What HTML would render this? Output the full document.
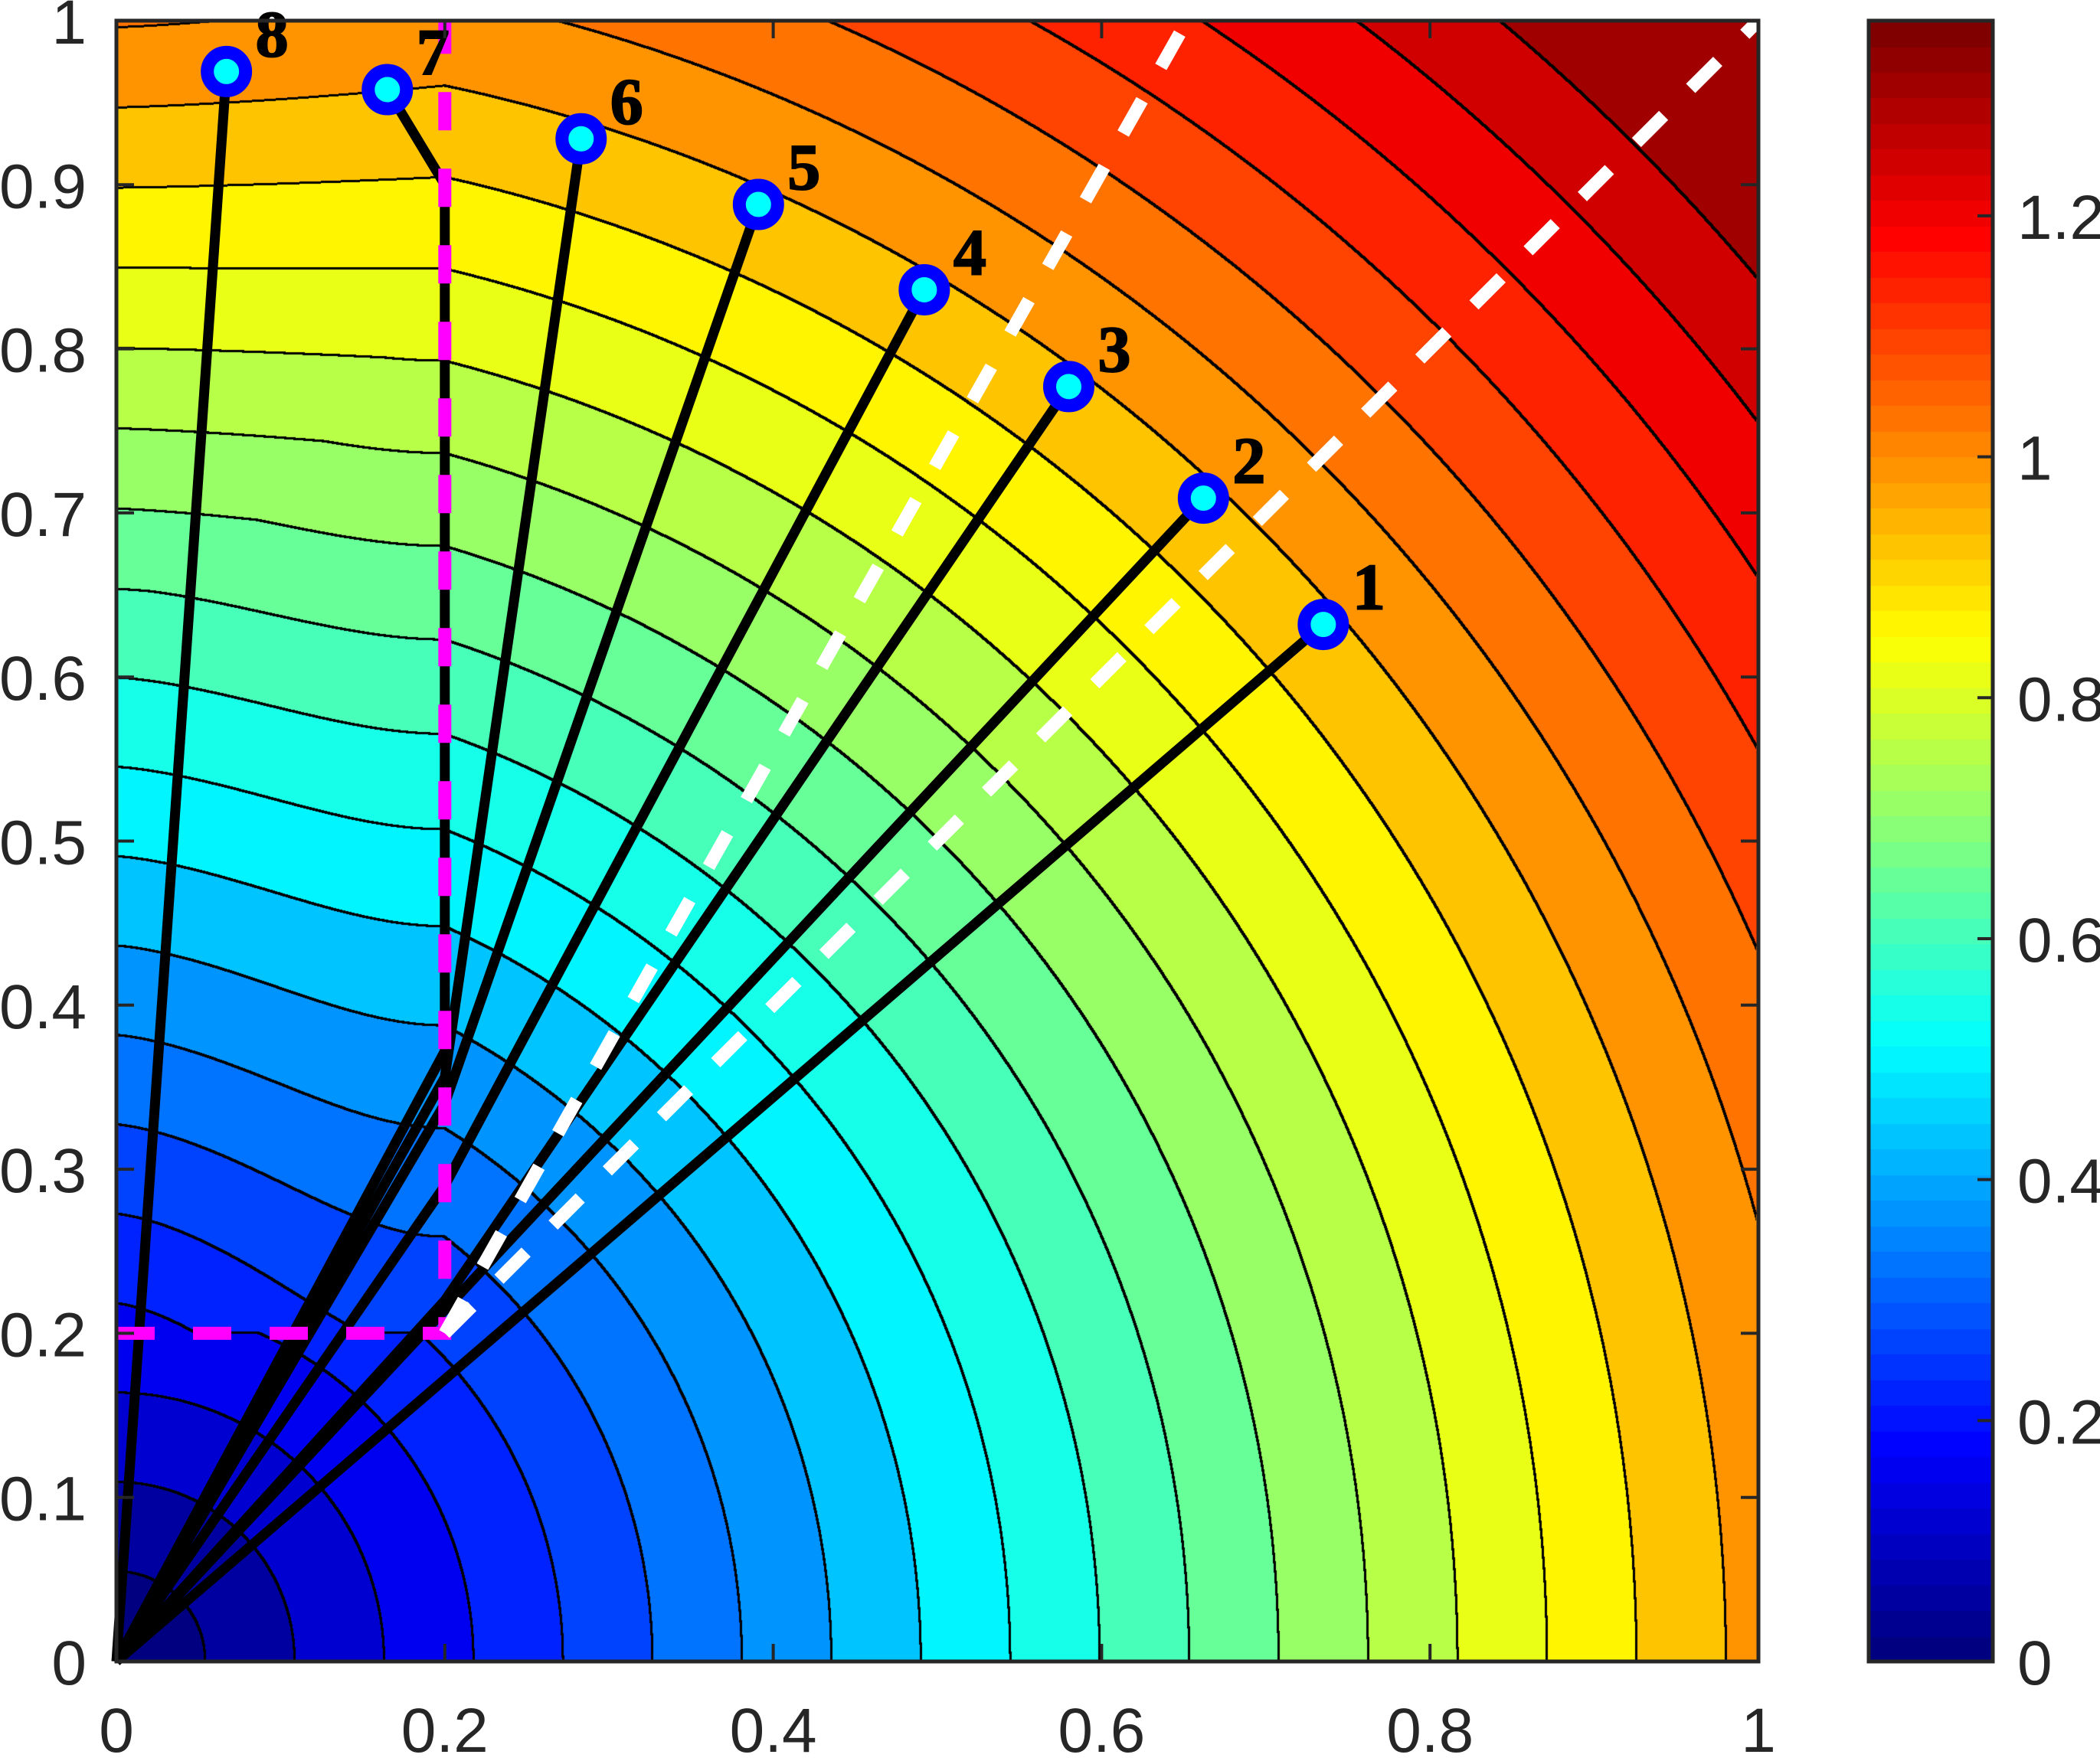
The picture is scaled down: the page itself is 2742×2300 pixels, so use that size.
<!DOCTYPE html>
<html><head><meta charset="utf-8">
<style>
html,body{margin:0;padding:0;background:#fff;}
#wrap{position:relative;width:2742px;height:2300px;overflow:hidden;}
canvas,svg{position:absolute;left:0;top:0;}
text{font-family:"Liberation Sans",sans-serif;}
</style></head>
<body>
<div id="wrap">
<canvas id="field" width="2742" height="2300"></canvas>
<svg id="ov" width="2742" height="2300"></svg>
</div>
<script>
// ---- data ----
const pointX = [0.735, 0.662, 0.580, 0.492, 0.391, 0.283, 0.165, 0.067];
const pointY = [0.632, 0.709, 0.777, 0.836, 0.888, 0.928, 0.958, 0.969];
const pointLabels = ["1","2","3","4","5","6","7","8"];
// intermediate bends of each path (x and y lists), path goes origin -> bends -> point
const bendX = [[], [], [0.2], [0.2], [0.2], [0.2], [0.2, 0.2], []];
const bendY = [[], [], [0.22], [0.29], [0.34], [0.356], [0.372, 0.9], []];
const magentaX = [0, 0.2, 0.2];
const magentaY = [0.2, 0.2, 1];
const whiteAX = [0.2, 1];
const whiteAY = [0.2, 1];
const whiteBX = [0.2, 0.652];
const whiteBY = [0.2, 1];
const xTicks = [0,0.2,0.4,0.6,0.8,1];
const xTickLabels = ["0","0.2","0.4","0.6","0.8","1"];
const yTicks = [0,0.1,0.2,0.3,0.4,0.5,0.6,0.7,0.8,0.9,1];
const yTickLabels = ["0","0.1","0.2","0.3","0.4","0.5","0.6","0.7","0.8","0.9","1"];
const cbTicks = [0,0.2,0.4,0.6,0.8,1,1.2];
const cbTickLabels = ["0","0.2","0.4","0.6","0.8","1","1.2"];
const cMax = 1.362;
const nLevels = 25;

// ---- layout ----
const PL=152, PR=2296, PT=27, PB=2170;
const CL=2440, CR=2602;
const sx = v => PL + v*(PR-PL);
const sy = v => PB - v*(PB-PT);
const cy = v => PB - v/cMax*(PB-PT);

function clamp(v){return Math.max(0,Math.min(1,v));}
function jet(t){
  return [clamp(Math.min(4*t-1.5,-4*t+4.5)), clamp(Math.min(4*t-0.5,-4*t+3.5)), clamp(Math.min(4*t+0.5,-4*t+2.5))].map(v=>Math.round(v*255));
}
function zf(x,y){
  const rad=Math.sqrt(x*x+y*y);
  if(x>=0.2||y<=0.2) return rad;
  const r2=Math.sqrt(0.04+y*y);
  const h=Math.max(rad, 0.981+1.114*(y-0.947));
  const w=Math.pow(x/0.2,1.3);
  return w*r2+(1-w)*h;
}
// ---- field ----
const cv=document.getElementById('field');
const ctx=cv.getContext('2d');
const W=PR-PL, H=PB-PT;
const step=cMax/nLevels;
const idx=new Int16Array(W*H);
for(let j=0;j<H;j++){for(let i=0;i<W;i++){
  const x=i/W, y=1-j/H;
  idx[j*W+i]=Math.min(nLevels-1,Math.floor(zf(x,y)/step));
}}
const img=ctx.createImageData(W,H);
const pal=[];for(let k=0;k<nLevels;k++){const t=Math.floor(k*step/cMax*64)/63;pal.push(jet(Math.min(1,t)));}
for(let j=0;j<H;j++){for(let i=0;i<W;i++){
  const p=j*W+i, k=idx[p];
  let edge=false;
  if(i+3<W&&idx[p+3]!==k) edge=true;
  if(j+3<H&&idx[p+3*W]!==k) edge=true;
  const c=edge?[0,0,0]:pal[k];
  img.data[p*4]=c[0];img.data[p*4+1]=c[1];img.data[p*4+2]=c[2];img.data[p*4+3]=255;
}}
ctx.putImageData(img,PL,PT);
// colorbar
for(let k=0;k<64;k++){
  const c=jet(k/63);
  ctx.fillStyle=`rgb(${c[0]},${c[1]},${c[2]})`;
  const y0=PB-(k+1)*(PB-PT)/64, y1=PB-k*(PB-PT)/64;
  ctx.fillRect(CL,Math.floor(y0),CR-CL,Math.ceil(y1-y0)+1);
}
// ---- overlay ----
const NS='http://www.w3.org/2000/svg';
const svg=document.getElementById('ov');
function mk(tag,attrs,parent){const e=document.createElementNS(NS,tag);for(const k in attrs)e.setAttribute(k,attrs[k]);(parent||svg).appendChild(e);return e;}
// paths
for(let i=0;i<pointX.length;i++){
  const xs=[0].concat(bendX[i],[pointX[i]]), ys=[0].concat(bendY[i],[pointY[i]]);
  const pl=mk('polyline',{points:xs.map((v,k)=>sx(v)+','+sy(ys[k])).join(' '),fill:'none',stroke:'#000','stroke-width':13,'stroke-linejoin':'miter'});
  
  
}
const mg=mk('polyline',{points:magentaX.map((v,k)=>sx(v)+','+sy(magentaY[k])).join(' '),fill:'none',stroke:'#ff00ff','stroke-width':17,'stroke-dasharray':'50 50'});


const wa=mk('polyline',{points:whiteAX.map((v,k)=>sx(v)+','+sy(whiteAY[k])).join(' '),fill:'none',stroke:'#fff','stroke-width':17,'stroke-dasharray':'50 50'});


const wb=mk('polyline',{points:whiteBX.map((v,k)=>sx(v)+','+sy(whiteBY[k])).join(' '),fill:'none',stroke:'#fff','stroke-width':17,'stroke-dasharray':'50 50'});


// markers + labels
for(let i=0;i<pointX.length;i++){
  const c=mk('circle',{cx:sx(pointX[i]),cy:sy(pointY[i]),r:25,fill:'#00ffff',stroke:'#0000ff','stroke-width':17});
  
  
  const t=mk('text',{x:sx(pointX[i])+38,y:sy(pointY[i])-20,'font-size':86,'font-weight':'bold',fill:'#000',stroke:'#000','stroke-width':2,style:'font-family:"Liberation Serif",serif'});
  t.textContent=pointLabels[i];
  
  
}
// axes box
const ax=mk('rect',{x:PL,y:PT,width:PR-PL,height:PB-PT,fill:'none',stroke:'#262626','stroke-width':5});


const cb=mk('rect',{x:CL,y:PT,width:CR-CL,height:PB-PT,fill:'none',stroke:'#262626','stroke-width':5});


// ticks
for(let i=0;i<xTicks.length;i++){
  const x=sx(xTicks[i]);
  mk('line',{x1:x,y1:PB,x2:x,y2:PB-23,stroke:'#262626','stroke-width':4});
  mk('line',{x1:x,y1:PT,x2:x,y2:PT+23,stroke:'#262626','stroke-width':4});
  const t=mk('text',{x:x,y:2288,'font-size':82,'text-anchor':'middle',fill:'#262626'});
  t.textContent=xTickLabels[i];
  
  
}
for(let i=0;i<yTicks.length;i++){
  const y=sy(yTicks[i]);
  mk('line',{x1:PL,y1:y,x2:PL+23,y2:y,stroke:'#262626','stroke-width':4});
  mk('line',{x1:PR,y1:y,x2:PR-23,y2:y,stroke:'#262626','stroke-width':4});
  const t=mk('text',{x:113,y:y+30,'font-size':82,'text-anchor':'end',fill:'#262626'});
  t.textContent=yTickLabels[i];
  
  
}
for(let i=0;i<cbTicks.length;i++){
  const y=cy(cbTicks[i]);
  mk('line',{x1:CR,y1:y,x2:CR-20,y2:y,stroke:'#262626','stroke-width':4});
  const t=mk('text',{x:2634,y:y+30,'font-size':82,fill:'#262626'});
  t.textContent=cbTickLabels[i];
  
  
}
</script>
</body></html>
